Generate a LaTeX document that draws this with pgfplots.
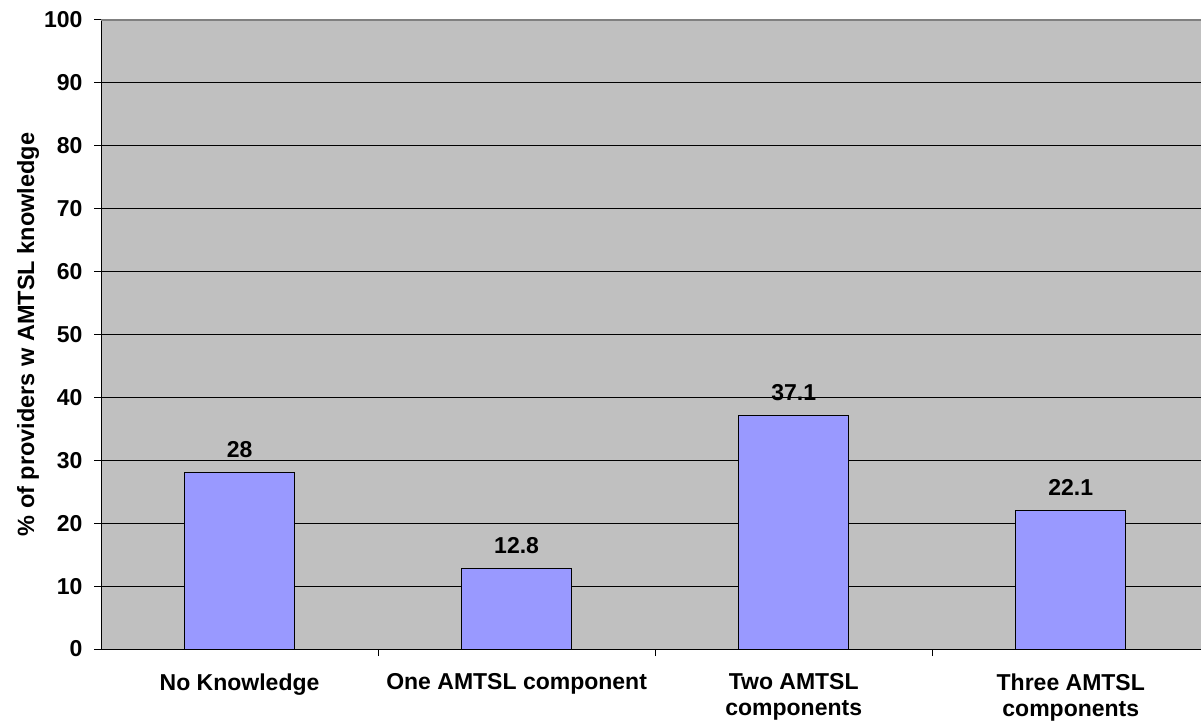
\documentclass[border=0pt]{standalone}
\usepackage{fontspec}
\setmainfont{Liberation Sans}
\usepackage{pgfplots}
\pgfplotsset{compat=1.18}
\definecolor{bggray}{HTML}{C0C0C0}
\definecolor{barblue}{HTML}{9999FF}
\definecolor{topgray}{HTML}{808080}
\begin{document}
\begin{tikzpicture}
\begin{axis}[
    scale only axis,
    width=1100pt, height=629pt,
    ybar, bar width=110pt,
    xmin=-0.5, xmax=3.47,
    ymin=0, ymax=100,
    ytick={0,10,...,100},
    xtick={0,1,2,3},
    xticklabels={No Knowledge, One AMTSL component, Two AMTSL\\components, Three AMTSL\\components},
    minor xtick={0.5,1.5,2.5},
    axis lines*=left,
    axis line style={-, black, line width=1pt},
    axis background/.style={fill=bggray},
    ymajorgrids,
    grid style={black, line width=0.9pt},
    tick align=outside,
    major tick length=7pt,
    minor tick length=7pt,
    x tick style={draw=none},
    minor x tick style={draw=black, line width=1pt},
    y tick style={black, line width=1pt},
    tick label style={font=\fontsize{23}{26}\selectfont\bfseries},
    /pgf/number format/assume math mode=true,
    xticklabel style={align=center, yshift=-14pt},
    yticklabel style={xshift=-8pt},
    ylabel={\% of providers w AMTSL knowledge},
    ylabel style={font=\fontsize{23.5}{27}\selectfont\bfseries},
    ylabel shift=-2pt,
    nodes near coords,
    every node near coord/.append style={font=\fontsize{23}{27}\selectfont\bfseries, yshift=11pt},
]
\addplot[fill=barblue, draw=black, line width=1pt] coordinates {(0,28) (1,12.8) (2,37.1) (3,22.1)};
\draw[topgray, line width=1.5pt] (rel axis cs:0,1) -- (rel axis cs:1,1);
\end{axis}
\pgfresetboundingbox
\path (current axis.south west) ++(-101pt,-77pt) rectangle ([yshift=20pt]current axis.north east);
\end{tikzpicture}
\end{document}
